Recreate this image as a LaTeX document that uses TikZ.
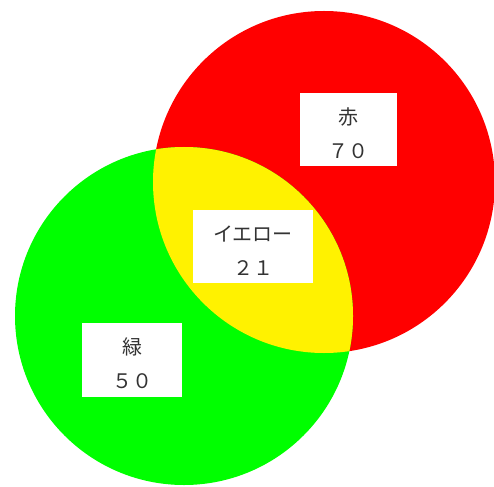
\documentclass[tikz,border=0pt]{standalone}
\usepackage{fontspec}
\newfontfamily\jp{Noto Sans CJK JP}
\newcommand{\topstrut}{\rule{0pt}{23.5pt}}
\begin{document}
\begin{tikzpicture}[x=1pt,y=-1pt,
  lbl/.style={fill=white, inner sep=0pt, align=center,
    font=\jp\fontsize{20}{34}\selectfont, text=black!80}]
\useasboundingbox (0,0) rectangle (494,486);
\fill[red] (324,182) circle[radius=171pt];
\fill[green] (184,316) circle[radius=169pt];
\begin{scope}
  \clip (324,182) circle[radius=171pt];
  \fill[yellow] (184,316) circle[radius=169pt];
\end{scope}
\node[lbl, minimum width=97pt, minimum height=73pt] (aka) at (348.5,129.5) {\topstrut 赤\\７０};
\node[lbl, minimum width=120pt, minimum height=73pt] (kiiro) at (253,246.5) {\topstrut イエロー\\２１};
\node[lbl, minimum width=100pt, minimum height=74pt] (midori) at (132,360) {\topstrut 緑\\５０};
\end{tikzpicture}
\end{document}
